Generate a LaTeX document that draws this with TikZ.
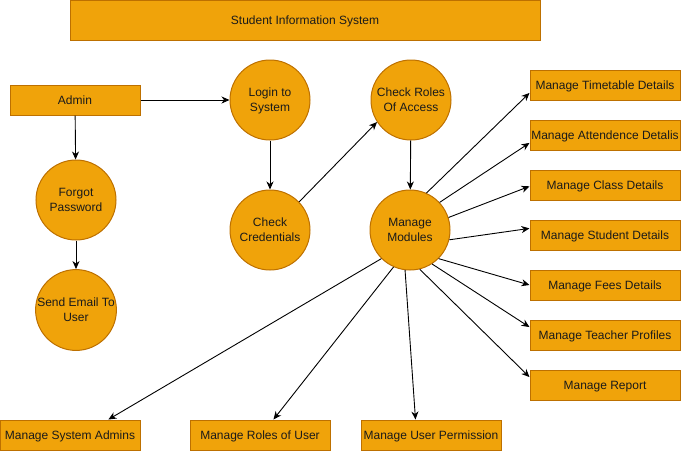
\documentclass[tikz,border=0pt]{standalone}
\usepackage{fontspec}
\setmainfont{Liberation Sans}
\usepackage{tikz}
\usetikzlibrary{arrows.meta}
\usetikzlibrary{shapes.geometric}

\definecolor{boxfill}{HTML}{F0A30A}
\definecolor{boxline}{HTML}{BD7000}
\definecolor{ink}{HTML}{1A1A1A}

\tikzset{
  procbox/.style={rectangle, draw=boxline, fill=boxfill, line width=1pt, inner sep=0pt,
    minimum width=150, minimum height=30, text=ink, text height=8.6pt, text depth=-1pt,
    font=\fontsize{12}{15}\selectfont},
  proccircle/.style={circle, draw=boxline, fill=boxfill, line width=1pt, inner sep=0pt,
    minimum size=80, align=center, text=ink, text depth=-5pt, font=\fontsize{12}{15}\selectfont},
  flow/.style={line width=0.9pt, -{Stealth[length=8pt,width=7pt,inset=2.5pt]}}
}

\begin{document}
\begin{tikzpicture}[x=1pt, y=-1pt]
  \useasboundingbox (0,0) rectangle (681,451);
  % Nodes
  \draw (305,20) node(title) [procbox, minimum width=470, minimum height=40] {Student Information System};
  \draw (75,100) node(admin) [procbox, minimum width=130] {Admin};
  \draw (270,100) node(login) [proccircle] {Login to\\System};
  \draw (270,230) node(cred) [proccircle] {Check\\Credentials};
  \draw (411,100) node(roles) [proccircle] {Check Roles\\Of Access};
  \draw (410,230) node(modules) [proccircle] {Manage\\Modules};
  \draw (76,200) node(forgot) [proccircle] {Forgot\\Password};
  \draw (76,310) node(email) [proccircle] {Send Email To\\User};

  \foreach \name/\y/\txt in {time/85/Manage Timetable Details,
                             attend/135/Manage Attendence Detalis,
                             class/185/Manage Class Details,
                             student/235/Manage Student Details,
                             fees/285/Manage Fees Details,
                             teacher/335/Manage Teacher Profiles,
                             report/385/Manage Report}{
    \draw (605,\y) node(\name) [procbox] {\txt};
  };

  \draw (70,435) node(sysadmins) [procbox, minimum width=140] {Manage System Admins};
  \draw (260,435) node(userroles) [procbox, minimum width=140] {Manage Roles of User};
  \draw (431,435) node(perm) [procbox, minimum width=140] {Manage User Permission};

  % Edges
  \path[flow] (admin) edge (login);
  \path[flow] (admin) edge (forgot);
  \path[flow] (forgot) edge (email);
  \path[flow] (login) edge (cred);
  \path[flow] (cred.44) edge (roles.213);
  \path[flow] (roles) edge (modules);

  \path[flow] (modules.66)  edge (time.186);
  \path[flow] (modules.43)  edge (attend.186);
  \path[flow] (modules.18)  edge (class.181);
  \path[flow] (modules.346) edge (student.175);
  \path[flow] (modules.315) edge (fees.180);
  \path[flow] (modules.303) edge (teacher.174);
  \path[flow] (modules.284) edge (report.174);

  \path[flow] (modules.225) edge (sysadmins.22);
  \path[flow] (modules.246) edge (userroles.49);
  \path[flow] (modules.263) edge (perm.135);

\end{tikzpicture}
\end{document}
